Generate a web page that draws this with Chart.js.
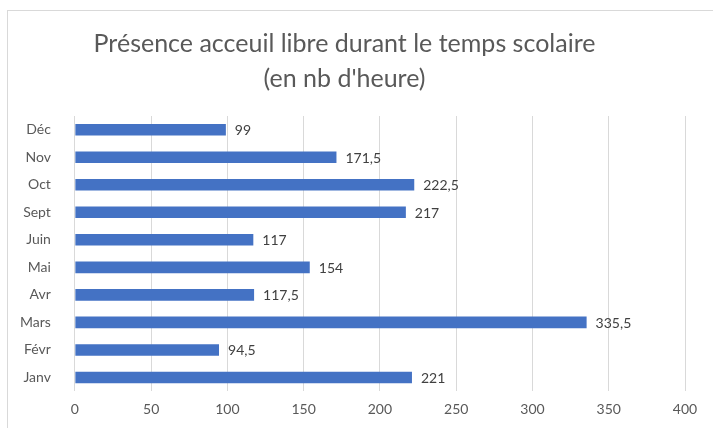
<!DOCTYPE html>
<html>
<head>
<meta charset="utf-8">
<script src="https://cdn.jsdelivr.net/npm/chart.js@4"></script>
<style>
  body { margin: 0; background: #fff; }
  #wrap { position: relative; width: 713px; height: 428px; overflow: hidden; }
  #frame { position: absolute; left: 7px; top: 10px; width: 720px; height: 440px; border: 1px solid #d9d9d9; }
  canvas { position: absolute; left: 0; top: 0; }
</style>
</head>
<body>
<div id="wrap">
  <div id="frame"></div>
  <canvas id="chart" width="713" height="428"></canvas>
</div>
<script>
// categories (top to bottom as shown in the picture)
const months = ['Déc', 'Nov', 'Oct', 'Sept', 'Juin', 'Mai', 'Avr', 'Mars', 'Févr', 'Janv'];
const hours = [99, 171.5, 222.5, 217, 117, 154, 117.5, 335.5, 94.5, 221];
const xTicks = [0, 50, 100, 150, 200, 250, 300, 350, 400];
const titleLines = ['Présence acceuil libre durant le temps scolaire', "(en nb d'heure)"];

const fmt = v => String(v).replace('.', ',');
const FONT = 'Lato, "Open Sans", sans-serif';

// draws value at the end of each bar
const valueLabels = {
    id: 'valueLabels',
    afterDatasetsDraw(chart) {
        const ctx = chart.ctx;
        const meta = chart.getDatasetMeta(0);
        ctx.save();
        ctx.font = '14px ' + FONT;
        ctx.fillStyle = '#404040';
        ctx.textAlign = 'left';
        ctx.textBaseline = 'middle';
        meta.data.forEach((bar, i) => {
            ctx.fillText(fmt(hours[i]), bar.x + 9, bar.y + 1);
        });
        ctx.restore();
    }
};

new Chart(document.getElementById('chart'), {
    type: 'bar',
    data: {
        labels: months,
        datasets: [{
            data: hours,
            backgroundColor: '#4472C4',
            barPercentage: 0.42,
            categoryPercentage: 1
        }]
    },
    options: {
        indexAxis: 'y',
        responsive: false,
        animation: false,
        layout: { padding: { left: 4, right: 28, top: 14, bottom: 0 } },
        plugins: {
            legend: { display: false },
            tooltip: { enabled: false },
            title: {
                display: true,
                text: titleLines,
                color: '#595959',
                font: { size: 25, family: FONT, weight: 'normal', lineHeight: 1.38 },
                padding: { top: 13, bottom: 20 }
            }
        },
        scales: {
            x: {
                min: 0,
                max: 400,
                afterBuildTicks: axis => { axis.ticks = xTicks.map(v => ({ value: v })); },
                grid: { color: '#d9d9d9', drawTicks: false },
                border: { display: false },
                ticks: { color: '#595959', padding: 10, font: { size: 14, family: FONT } }
            },
            y: {
                grid: { display: false },
                border: { display: false },
                ticks: { color: '#595959', padding: 16, font: { size: 14, family: FONT } }
            }
        }
    },
    plugins: [valueLabels]
});
</script>
</body>
</html>
